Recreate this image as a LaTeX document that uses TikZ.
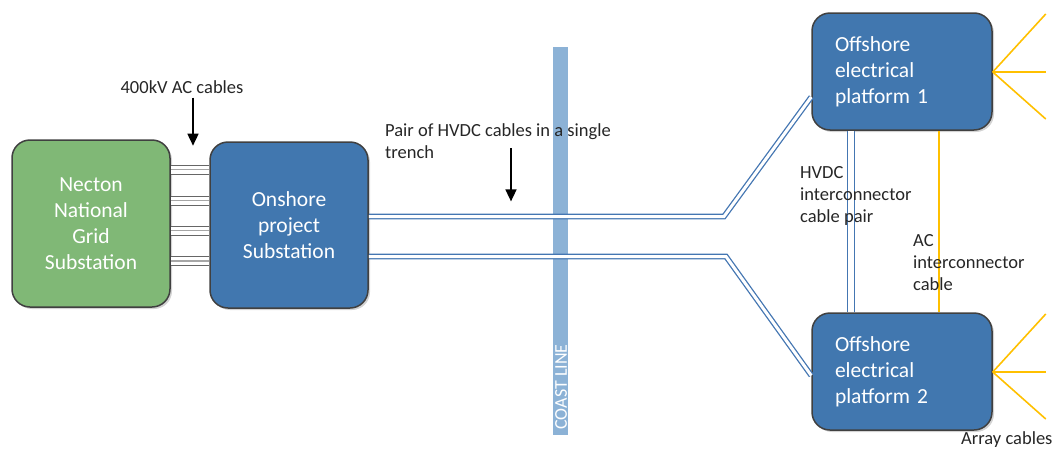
\documentclass[tikz,border=0pt]{standalone}
\usepackage{fontspec}
\setmainfont{Carlito}
\usetikzlibrary{arrows.meta,shadows}
\definecolor{boxblue}{RGB}{65,119,175}
\definecolor{boxgreen}{RGB}{128,184,118}
\definecolor{cableblue}{RGB}{68,118,178}
\definecolor{coastblue}{RGB}{140,178,214}
\definecolor{arrayorange}{RGB}{255,192,0}
\definecolor{labelgray}{RGB}{38,38,38}
\begin{document}
\begin{tikzpicture}[x=1pt,y=-1pt,
    station/.style={draw=black!75,line width=1.5pt,rounded corners=18pt,inner sep=0pt,
        text=white,align=center,font=\fontsize{21.5}{26}\selectfont,
        drop shadow={opacity=0.35,shadow xshift=2pt,shadow yshift=-2pt}},
    platform/.style={station,fill=boxblue,minimum width=180pt,minimum height=117pt,
        text width=134pt,align=left},
    label/.style={text=labelgray,font=\fontsize{18.5}{22}\selectfont,inner sep=0pt,align=left},
    hvdc/.style={draw=cableblue,line width=1.3pt,double=white,double distance=3pt},
    accable/.style={draw=black!60,line width=1pt,double=white,double distance=8pt},
    arraycable/.style={draw=arrayorange,line width=1.6pt},
    pointer/.style={line width=1.6pt,-{Triangle[width=11pt,length=12pt]}}]
    \useasboundingbox (0,0) rectangle (1058,450);
    \fill[coastblue] (553,47) rectangle (568,435);
    \node[rotate=90,text=white,font=\fontsize{18}{20}\selectfont,inner sep=0pt] (coast) at (561,387) {COAST LINE};
    \node[station,fill=boxgreen,minimum width=158pt,minimum height=167pt] (grid) at (91,223.5) {Necton\\National\\Grid\\Substation};
    \node[station,fill=boxblue,minimum width=158pt,minimum height=166pt] (onshore) at (289,225) {Onshore\\project\\Substation};
    \node[platform] (p1) at (902,71.5) {Offshore\\electrical\\platform 1};
    \node[platform] (p2) at (902,371.5) {Offshore\\electrical\\platform 2};
    \foreach \y in {169.5,200.5,230.5,261}{
    \draw[accable] (grid.east |- 0,\y) -- (onshore.west |- 0,\y);
    \draw[black!35,line width=1.2pt] (grid.east |- 0,\y) -- (onshore.west |- 0,\y);
    }
    \draw[hvdc] (onshore.east |- 0,216.5) -- (724,216.5) -- ([yshift=-25.5pt]p1.west);
    \draw[hvdc] (onshore.east |- 0,256.5) -- (726,256.5) -- ([yshift=-4pt]p2.west);
    \draw[hvdc,double distance=5.5pt] (p1.south -| 851,0) -- (p2.north -| 851,0);
    \draw[arraycable] (p1.south -| 939,0) -- (p2.north -| 939,0);
    \foreach \p in {p1,p2}
    \foreach \dy in {-58,0,47}
    \draw[arraycable] ([yshift=-0.5pt]\p.east) -- ++(53,\dy);
    \node[label] (aclbl) at (182,87) {400kV AC cables};
    \draw[pointer] (aclbl.south -| 193,0) ++(0,4) -- ++(0,48);
    \node[label,anchor=north west] (dclbl) at (385,123) {Pair of HVDC cables in a single\\trench};
    \draw[pointer] (dclbl.south -| 511,0) ++(0,-10) -- ++(0,53);
    \node[label,anchor=west] (hvdclbl) at (800,196) {HVDC\\interconnector\\cable pair};
    \node[label,anchor=west] (aclink) at (913,263) {AC\\interconnector\\cable};
    \node[label,anchor=west] (arraylbl) at (961,440) {Array cables};
\end{tikzpicture}
\end{document}
